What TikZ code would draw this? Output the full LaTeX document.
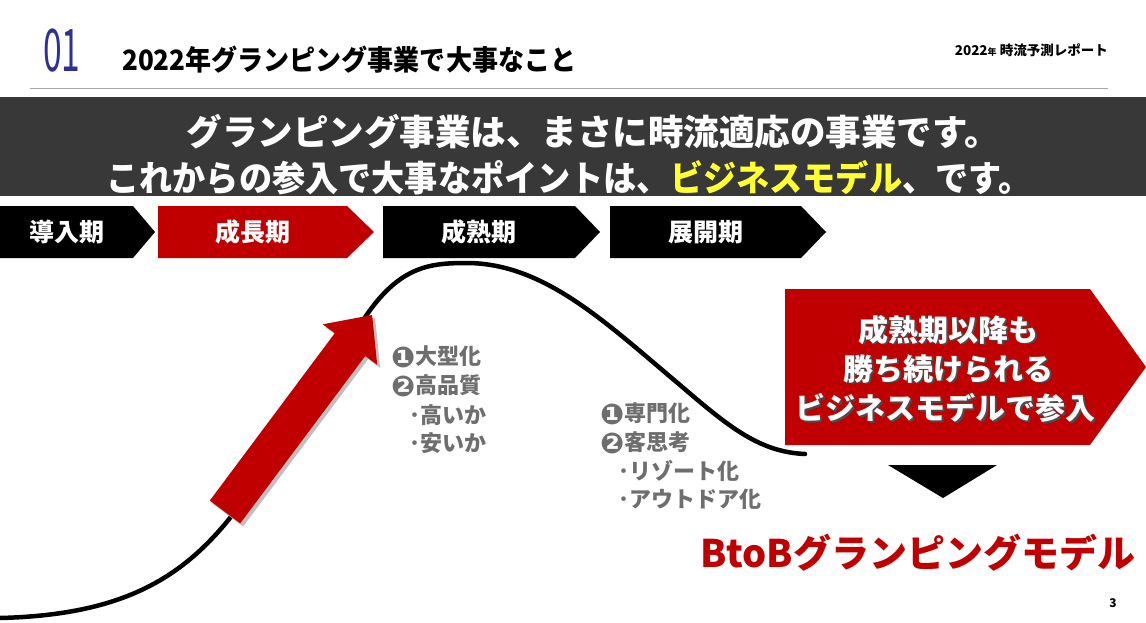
\documentclass[tikz,border=0pt]{standalone}
\usepackage{fontspec}
\setmainfont{Noto Sans CJK JP}
\newfontfamily\dvfont{DejaVu Sans}
\usetikzlibrary{calc}
\definecolor{bannerbg}{HTML}{383838}
\definecolor{redc}{HTML}{C00000}
\definecolor{yel}{HTML}{FFFF33}
\definecolor{txtgray}{HTML}{6E6E6E}
\definecolor{blu}{HTML}{2E3192}
\newcommand{\mychev}[6]{% name, color, x0, x1, tip, label
  \fill[#2] (#3,206) -- (#4,206) -- (#5,232) -- (#4,258) -- (#3,258) -- cycle;
  \node[phase] (#1) at ({(#3+#4)/2},232) {#6};}
\newcommand{\cnum}[1]{\raisebox{-0.12em}{\scalebox{1.3}{\dvfont #1}}}
\begin{document}
\begin{tikzpicture}[x=1pt,y=-1pt,
  phase/.style={text=white,font=\fontsize{25}{28}\selectfont\bfseries,inner sep=0pt},
  banner/.style={text=white,font=\fontsize{35.5}{40}\selectfont\bfseries,inner sep=0pt},
  graytxt/.style={text=txtgray,font=\fontsize{22}{24}\selectfont\bfseries,inner sep=0pt,anchor=west},
  boxtxt/.style={text=white,font=\fontsize{30}{34}\selectfont\bfseries,inner sep=0pt},
  boxshadow/.style={text=black!70,font=\fontsize{30}{34}\selectfont\bfseries,inner sep=0pt},
]
\useasboundingbox (0,0) rectangle (1146,622);
\fill[white] (0,0) rectangle (1146,622);

% header
\node[text=blu,inner sep=0pt,anchor=west] (num) at (43,51)
  {\scalebox{0.6}[1.05]{\fontsize{56}{60}\selectfont 01}};
\node[inner sep=0pt,anchor=west,font=\fontsize{28}{32}\selectfont\bfseries] (title) at (122,60)
  {\scalebox{0.93}[1]{2022年グランピング事業で大事なこと}};
\node[inner sep=0pt,anchor=east,font=\fontsize{13.5}{15}\selectfont\bfseries] (report) at (1108,50)
  {2022{\fontsize{9}{10}\selectfont 年} 時流予測レポート};
\coordinate (hl0) at (30,88);
\coordinate (hl1) at (1108,88);
\draw[black!35,line width=1pt] (hl0) -- (hl1);

% banner
\fill[bannerbg] (0,97) rectangle (1146,196);
\node[banner] (b1) at (593,132) {グランピング事業は、まさに時流適応の事業です。};
\node[banner] (b2) at (569,178) {\scalebox{0.934}[1]{これからの参入で大事なポイントは、\textcolor{yel}{ビジネスモデル}、です。}};

% phases
\mychev{p1}{black}{0}{133}{155}{導入期}
\mychev{p2}{redc}{158}{347}{374}{成長期}
\mychev{p3}{black}{383}{575}{600}{成熟期}
\mychev{p4}{black}{610}{801}{826}{展開期}

% curve
\coordinate (c0) at (0,618);
\coordinate (c1) at (230,518);
\coordinate (c2) at (368,313);
\coordinate (c3) at (468,263);
\coordinate (c4) at (680,385);
\coordinate (c5) at (805,454);
\draw[line width=4.5pt,line cap=round]
  (c0) .. controls (120,615) and (180,580) .. (c1)
  -- (c2)
  .. controls (402,265) and (432,263) .. (c3)
  .. controls (545,264) and (605,322) .. (c4)
  .. controls (730,428) and (760,452) .. (c5);

% red arrow
\fill[black!25] (212.8,503.6) -- (243.2,526.4) -- (368.2,359) -- (380.2,367.9) -- (375.1,318)
  -- (325.8,327.3) -- (337.8,336.2) -- cycle;
\fill[redc] (209.8,500.6) -- (240.2,523.4) -- (365.2,356) -- (377.2,364.9) -- (372.1,315)
  -- (322.8,324.3) -- (334.8,333.2) -- cycle;

% gray texts
\node[graytxt] (g1) at (391,357) {\cnum{❶}大型化};
\node[graytxt] (g2) at (391,386) {\cnum{❷}高品質};
\node[graytxt] (g3) at (409,415) {･高いか};
\node[graytxt] (g4) at (409,443) {･安いか};
\node[graytxt] (h1) at (600,414) {\cnum{❶}専門化};
\node[graytxt] (h2) at (600,443) {\cnum{❷}客思考};
\node[graytxt] (h3) at (618,471) {･リゾート化};
\node[graytxt] (h4) at (618,499) {･アウトドア化};

% red box
\fill[redc] (785,289) -- (1090,289) -- (1146,367) -- (1090,445) -- (785,445) -- cycle;
\node[boxshadow] (r1s) at (950,331.5) {成熟期以降も};
\node[boxshadow] (r2s) at (950,370.5) {勝ち続けられる};
\node[boxshadow] (r3s) at (947,409.5) {ビジネスモデルで参入};
\node[boxtxt] (r1) at (948,330) {成熟期以降も};
\node[boxtxt] (r2) at (948,369) {勝ち続けられる};
\node[boxtxt] (r3) at (945,408) {ビジネスモデルで参入};

% down triangle
\fill[black] (888,465) -- (997,465) -- (943,498) -- cycle;

% result
\node[text=redc,inner sep=0pt,font=\fontsize{38}{42}\selectfont\bfseries] (res) at (918,553)
  {BtoBグランピングモデル};
\node[inner sep=0pt,font=\fontsize{12}{14}\selectfont\bfseries] (pg) at (1113,603) {3};
\end{tikzpicture}
\end{document}
